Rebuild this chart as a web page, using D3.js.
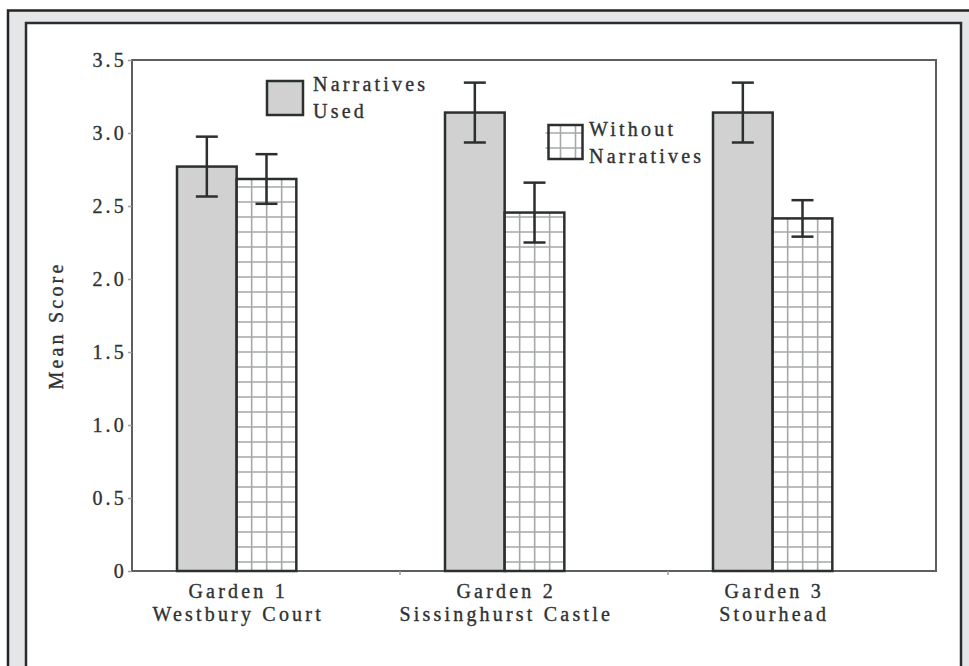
<!DOCTYPE html>
<html>
<head>
<meta charset="utf-8">
<script src="https://cdn.jsdelivr.net/npm/d3@7"></script>
<style>
  html, body { margin: 0; padding: 0; background: #ffffff; }
  svg { display: block; font-family: "Liberation Serif", "Times New Roman", Times, "DejaVu Serif", serif; }
  svg text {
    font-family: "Liberation Serif", "Times New Roman", Times, "DejaVu Serif", serif !important;
    fill: #2f3232; stroke: #2f3232; stroke-width: 0.35px;
  }
</style>
</head>
<body>
<svg id="chart" width="969" height="666"></svg>
<script>
// Mean visitor scores per garden, with and without narratives
const gardens = ["Garden 1", "Garden 2", "Garden 3"];
const sites = ["Westbury Court", "Sissinghurst Castle", "Stourhead"];
const seriesNames = ["Narratives Used", "Without Narratives"];
const narrativesMean = [2.77, 3.14, 3.14];
const narrativesErr = [0.205, 0.205, 0.205];
const withoutMean = [2.685, 2.455, 2.415];
const withoutErr = [0.17, 0.205, 0.125];
const yTicks = [0, 0.5, 1.0, 1.5, 2.0, 2.5, 3.0, 3.5];
const yLabel = "Mean Score";

const svg = d3.select("#chart");
const W = 969, H = 666;
const plot = { left: 132, right: 936, top: 60, bottom: 571 };
const fontSize = 20, spacing = "3.2px";
const ink = "#2b2f2f";
const gridInk = "#a6a9a9";
const cell = 15;

// page frame: light grey mat between two dark rules
svg.append("rect").attr("x", 8).attr("y", 10.5).attr("width", W + 20).attr("height", H + 20)
  .attr("fill", "#e4e6e8").attr("stroke", "#232425").attr("stroke-width", 2.5);
svg.append("rect").attr("x", 26).attr("y", 23).attr("width", 935).attr("height", H + 20)
  .attr("fill", "#ffffff").attr("stroke", "#2a2c2d").attr("stroke-width", 2.5);

// scales
const y = d3.scaleLinear().domain([0, 3.5]).range([plot.bottom, plot.top]);
const x = d3.scaleBand().domain(gardens).range([plot.left, plot.right]).padding(0);
const slot = d3.scaleBand().domain(["used", "without", "spare"]).range([45, 224]).padding(0);

// plot frame
svg.append("rect")
  .attr("x", plot.left).attr("y", plot.top)
  .attr("width", plot.right - plot.left).attr("height", plot.bottom - plot.top)
  .attr("fill", "#ffffff").attr("stroke", "#5b5f5f").attr("stroke-width", 2);

// y axis
const yAxis = svg.append("g")
  .attr("transform", `translate(${plot.left},0)`)
  .call(d3.axisLeft(y).tickValues(yTicks).tickSize(4).tickPadding(4)
    .tickFormat(d => d === 0 ? "0" : d3.format(".1f")(d)));
yAxis.attr("font-family", null).attr("font-size", null);
yAxis.select(".domain").remove();
yAxis.selectAll(".tick line").attr("stroke", "#9a9d9d").attr("stroke-width", 1.5);
yAxis.selectAll(".tick text")
  .attr("font-size", fontSize)
  .attr("letter-spacing", spacing).attr("fill", "#2f3232")
  .attr("dx", "3px");

svg.append("text")
  .attr("transform", `translate(63,${(plot.top + plot.bottom) / 2 + 10}) rotate(-90)`)
  .attr("text-anchor", "middle").attr("font-size", fontSize).attr("letter-spacing", spacing)
  .text(yLabel);

// x axis ticks at group boundaries
svg.selectAll(".xtick").data(gardens.slice(1)).enter().append("line")
  .attr("x1", d => x(d)).attr("x2", d => x(d))
  .attr("y1", plot.bottom).attr("y2", plot.bottom + 4)
  .attr("stroke", "#9a9d9d").attr("stroke-width", 1.5);

// squared grid texture inside a box (x0,y0,w,h), rows counted from its bottom
function gridLines(sel, x0, y0, w, h, rowOffset) {
  const gl = sel.append("g").attr("stroke", gridInk).attr("stroke-width", 1.6);
  for (let gx = x0 + cell; gx < x0 + w - 2; gx += cell) {
    gl.append("line").attr("x1", gx).attr("x2", gx).attr("y1", y0).attr("y2", y0 + h);
  }
  for (let gy = y0 + h - rowOffset; gy > y0 + 2; gy -= cell) {
    gl.append("line").attr("x1", x0).attr("x2", x0 + w).attr("y1", gy).attr("y2", gy);
  }
}

const rows = gardens.map((g, i) => ({
  garden: g, site: sites[i],
  bars: [
    { key: "used", mean: narrativesMean[i], err: narrativesErr[i] },
    { key: "without", mean: withoutMean[i], err: withoutErr[i] }
  ]
}));

const groups = svg.selectAll(".group").data(rows).enter().append("g")
  .attr("class", "group")
  .attr("transform", d => `translate(${x(d.garden)},0)`);

groups.each(function (d) {
  const g = d3.select(this);
  d.bars.forEach(b => {
    const bx = slot(b.key), bw = slot.bandwidth();
    const by = y(b.mean), bh = y(0) - y(b.mean);
    if (b.key === "without") {
      g.append("rect").attr("x", bx).attr("y", by).attr("width", bw).attr("height", bh)
        .attr("fill", "#ffffff");
      gridLines(g, bx, by, bw, bh, 9);
    }
    g.append("rect")
      .attr("x", bx).attr("y", by)
      .attr("width", bw).attr("height", bh)
      .attr("fill", b.key === "used" ? "#d1d1d1" : "none")
      .attr("stroke", ink).attr("stroke-width", 2.5);
  });
  // error bars on top
  d.bars.forEach(b => {
    const cx = slot(b.key) + slot.bandwidth() / 2;
    const e = g.append("g").attr("stroke", ink).attr("stroke-width", 2.5);
    e.append("line").attr("x1", cx).attr("x2", cx)
      .attr("y1", y(b.mean + b.err)).attr("y2", y(b.mean - b.err));
    [b.mean + b.err, b.mean - b.err].forEach(v => {
      e.append("line").attr("x1", cx - 11).attr("x2", cx + 11)
        .attr("y1", y(v)).attr("y2", y(v));
    });
  });
  // category label centred under the pair
  const lx = slot("without");
  const t = g.append("text").attr("text-anchor", "middle")
    .attr("font-size", fontSize).attr("letter-spacing", spacing);
  t.append("tspan").attr("x", lx + 1.5).attr("y", 598).text(d.garden);
  t.append("tspan").attr("x", lx + 1.5).attr("y", 621).text(d.site);
});

// legend
const legend = [
  { name: seriesNames[0], lines: ["Narratives", "Used"], sx: 267, sy: 81, w: 36, h: 34, tx: 313, ty: 91 },
  { name: seriesNames[1], lines: ["Without", "Narratives"], sx: 548.5, sy: 125, w: 34, h: 34, tx: 589, ty: 136 }
];
legend.forEach((l, i) => {
  const lg = svg.append("g");
  if (i === 1) {
    lg.append("rect").attr("x", l.sx).attr("y", l.sy).attr("width", l.w).attr("height", l.h)
      .attr("fill", "#ffffff");
    gridLines(lg, l.sx - 3, l.sy, l.w + 3, l.h, 11);
  }
  lg.append("rect").attr("x", l.sx).attr("y", l.sy).attr("width", l.w).attr("height", l.h)
    .attr("fill", i === 0 ? "#d1d1d1" : "none").attr("stroke", ink).attr("stroke-width", 2.5);
  const t = lg.append("text").attr("font-size", fontSize).attr("letter-spacing", spacing);
  l.lines.forEach((s, k) => {
    t.append("tspan").attr("x", l.tx).attr("y", l.ty + k * 27).text(s);
  });
});
</script>
</body>
</html>
